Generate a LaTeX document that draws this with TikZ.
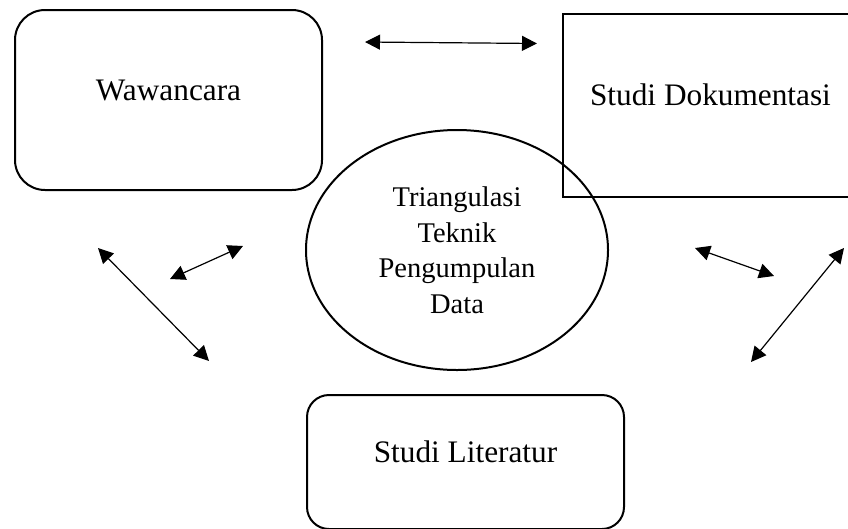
\documentclass[tikz,border=0pt]{standalone}
\usepackage{fontspec}
\setmainfont{Liberation Serif}
\usetikzlibrary{arrows.meta,shapes.geometric}

\begin{document}
\begin{tikzpicture}[
  x=1pt, y=-1pt,
  box/.style={draw, line width=2pt, inner sep=0pt, text height=15pt, text depth=15pt,
              font=\fontsize{31.3}{36}\selectfont},
  hub/.style={draw, ellipse, line width=2pt, inner sep=0pt, align=center,
              font=\fontsize{28.5}{35.5}\selectfont},
  link/.style={<->, line width=1.2pt},
  >={Triangle[length=15pt,width=15pt]}]
  \useasboundingbox (0,0) rectangle (848,528);
  \clip (0,0) rectangle (848,528);
  % the four parts
  \node[box, rounded corners=30pt, minimum width=307pt, minimum height=180pt] (wawancara) at (168.5,100) {Wawancara};
  \node[box, minimum width=295pt, minimum height=183pt] (dokumentasi) at (710.5,105.5) {Studi Dokumentasi};
  \node[box, rounded corners=22pt, minimum width=317pt, minimum height=134pt] (literatur) at (465.5,462) {Studi Literatur};
  \node[hub, minimum width=302pt, minimum height=240pt] (triangulasi) at (457,250) {Triangulasi\\ Teknik\\ Pengumpulan\\ Data};
  % loose arrows
  \coordinate (wdA) at (365,42);   \coordinate (wdB) at (537,43.5);
  \coordinate (wlA) at (98,248);   \coordinate (wlB) at (209,361);
  \coordinate (wtA) at (170,279);  \coordinate (wtB) at (243,246);
  \coordinate (dtA) at (695,248);  \coordinate (dtB) at (774,276);
  \coordinate (dlA) at (751,362);  \coordinate (dlB) at (844,248);
  \draw[link] (wdA) -- (wdB);
  \draw[link] (wlA) -- (wlB);
  \draw[link] (wtA) -- (wtB);
  \draw[link] (dtA) -- (dtB);
  \draw[link] (dlA) -- (dlB);
\end{tikzpicture}
\end{document}
